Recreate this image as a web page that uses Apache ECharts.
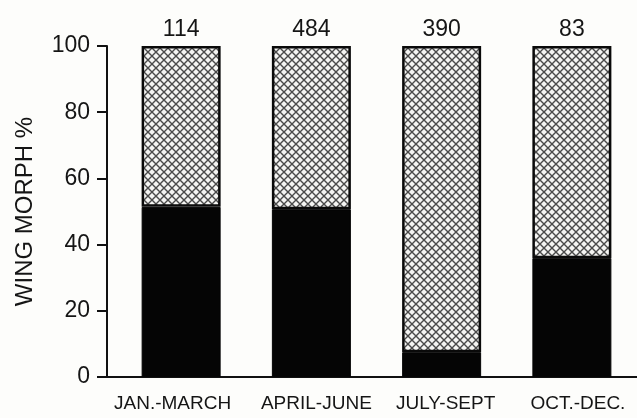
<!DOCTYPE html>
<html>
<head>
<meta charset="utf-8">
<script src="https://cdn.jsdelivr.net/npm/echarts@6/dist/echarts.min.js"></script>
<style>
  html, body { margin: 0; padding: 0; background: #fdfdfb; }
  #chart { width: 637px; height: 418px; }
</style>
</head>
<body>
<div id="chart"></div>
<script>
// Seasonal wing morph composition (percent of sample)
const periods = ['JAN.-MARCH', 'APRIL-JUNE', 'JULY-SEPT', 'OCT.-DEC.'];
const solidMorph = [51.4, 50.7, 7.5, 35.9];     // black lower segment
const hatchedMorph = [48.6, 49.3, 92.5, 64.1];  // cross-hatched upper segment
const sampleSizes = [114, 484, 390, 83];          // n printed above each bar
const yTicks = [0, 20, 40, 60, 80, 100];

// cross-hatch tile for the upper segment
function hatchTile() {
  const s = 8;
  const c = document.createElement('canvas');
  c.width = s; c.height = s;
  const g = c.getContext('2d');
  g.fillStyle = '#f4f4f2';
  g.fillRect(0, 0, s, s);
  g.strokeStyle = '#4a4a4a';
  g.lineWidth = 1.4;
  g.beginPath();
  g.moveTo(0, 0); g.lineTo(s, s);
  g.moveTo(s, 0); g.lineTo(0, s);
  g.stroke();
  return c;
}

const chart = echarts.init(document.getElementById('chart'), null, { renderer: 'canvas' });
const font = '"Liberation Sans", Arial, Helvetica, sans-serif';

// small per-label nudges so each period name sits where it was typeset
const labelRich = {
  p0: { fontSize: 19, padding: [0, 17, 0, 0] },
  p1: { fontSize: 19, padding: [0, 0, 0, 10] },
  p2: { fontSize: 19, padding: [0, 0, 0, 8] },
  p3: { fontSize: 19, padding: [0, 0, 0, 12] }
};

chart.setOption({
  backgroundColor: '#fdfdfb',
  animation: false,
  grid: [
    { left: 116, right: 0, top: 46, bottom: 41 },
    { left: 107, right: 0, top: 46, bottom: 41 }
  ],
  xAxis: [
    {
      type: 'category', gridIndex: 0, data: periods,
      axisLine: { show: false }, axisTick: { show: false },
      axisLabel: {
        interval: 0, hideOverlap: false,
        color: '#151515', fontFamily: font, fontSize: 19, margin: 17,
        formatter: (v, i) => '{p' + i + '|' + v + '}',
        rich: labelRich
      }
    },
    {
      type: 'value', gridIndex: 1, min: 0, max: 1,
      axisLine: { show: true, lineStyle: { color: '#111', width: 2 } },
      axisTick: { show: false }, axisLabel: { show: false }, splitLine: { show: false }
    }
  ],
  yAxis: [
    {
      type: 'value', gridIndex: 0, min: 0, max: 100, interval: 20,
      show: false, splitLine: { show: false }
    },
    {
      type: 'value', gridIndex: 1, min: yTicks[0], max: yTicks[yTicks.length - 1], interval: 20,
      name: 'WING MORPH %', nameLocation: 'middle', nameGap: 70, nameRotate: 90,
      nameTextStyle: { color: '#151515', fontFamily: font, fontSize: 24 },
      axisLine: { show: true, lineStyle: { color: '#111', width: 2 } },
      axisTick: { show: true, length: 10, lineStyle: { color: '#111', width: 2 } },
      axisLabel: { color: '#151515', fontFamily: font, fontSize: 23, margin: 17 },
      splitLine: { show: false }
    }
  ],
  series: [
    {
      type: 'bar', name: 'solid', stack: 'm', xAxisIndex: 0, yAxisIndex: 0,
      data: solidMorph, barWidth: 79,
      itemStyle: { color: '#050505', borderColor: '#050505', borderWidth: 1 }
    },
    {
      type: 'bar', name: 'hatched', stack: 'm', xAxisIndex: 0, yAxisIndex: 0,
      data: hatchedMorph.map((v, i) => ({ value: v, n: sampleSizes[i] })),
      barWidth: 79,
      itemStyle: {
        color: { image: hatchTile(), repeat: 'repeat' },
        borderColor: '#0a0a0a', borderWidth: 2.5
      },
      label: {
        show: true, position: 'top', distance: 5,
        color: '#151515', fontFamily: font, fontSize: 23,
        formatter: p => String(p.data.n)
      }
    }
  ]
});
</script>
</body>
</html>
